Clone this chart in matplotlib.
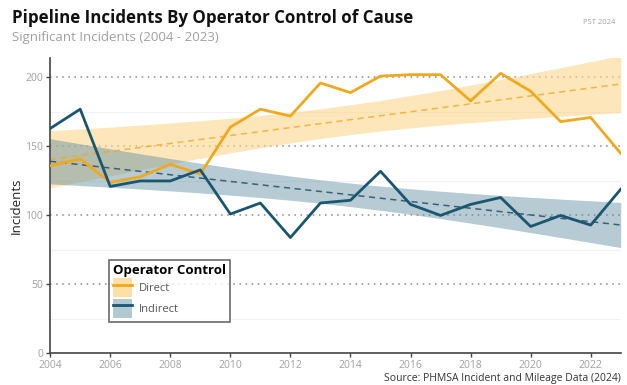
import numpy as np
import matplotlib
matplotlib.use("Agg")
import matplotlib.pyplot as plt
from matplotlib.patches import Patch
from matplotlib.lines import Line2D
from matplotlib.ticker import MultipleLocator

plt.rcParams['font.family'] = ['Open Sans', 'DejaVu Sans']

years = np.arange(2004, 2024)
direct = [136, 141, 124, 128, 137, 130, 164, 177, 172, 196, 189, 201,
          202, 202, 183, 203, 190, 168, 171, 145]
indirect = [163, 177, 121, 125, 125, 133, 101, 109, 84, 109, 111, 132,
            108, 100, 108, 113, 92, 100, 93, 119]

orange = "#F0A91E"
blue = "#1B5670"
t975 = 2.1009  # t quantile, 95% band, 18 df


def lm_band(x, y):
    x = np.asarray(x, float)
    y = np.asarray(y, float)
    n = len(x)
    b, a = np.polyfit(x, y, 1)
    fit = a + b * x
    s2 = np.sum((y - fit) ** 2) / (n - 2)
    sxx = np.sum((x - x.mean()) ** 2)
    se = np.sqrt(s2 * (1 / n + (x - x.mean()) ** 2 / sxx))
    return fit, fit - t975 * se, fit + t975 * se


fig = plt.figure(figsize=(6.27, 3.85), dpi=100)
ax = fig.add_axes([0.080, 0.082, 0.910, 0.767])

# minor and major horizontal grid
for v in [25, 75, 125, 175]:
    ax.axhline(v, color="#f2f2f2", lw=0.8, zorder=0)
for v in [50, 100, 150, 200]:
    ax.axhline(v, color="#8a8a8a", lw=1.1, ls=(0, (1, 3)), zorder=0.5)

d_fit, d_lo, d_hi = lm_band(years, direct)
i_fit, i_lo, i_hi = lm_band(years, indirect)

ax.fill_between(years, d_lo, d_hi, color="#FBD68C", alpha=0.6, lw=0, zorder=1)
ax.fill_between(years, i_lo, i_hi, color="#5E8DA0", alpha=0.45, lw=0, zorder=1.1)
ax.plot(years, d_fit, color=orange, lw=1.1, ls=(0, (4, 3)), alpha=0.8, zorder=2)
ax.plot(years, i_fit, color="#2f5566", lw=1.1, ls=(0, (4, 3)), alpha=0.9, zorder=2)

ax.plot(years, direct, color=orange, lw=2.0, zorder=3)
ax.plot(years, indirect, color=blue, lw=2.0, zorder=3)

ax.set_xlim(2004, 2023)
ax.set_ylim(0, 214)
ax.xaxis.set_major_locator(MultipleLocator(2))
ax.yaxis.set_major_locator(MultipleLocator(50))
for side in ["top", "right"]:
    ax.spines[side].set_visible(False)
for side in ["left", "bottom"]:
    ax.spines[side].set_color("#444444")
    ax.spines[side].set_linewidth(1.2)
ax.tick_params(axis="both", colors="#444444", labelcolor="#a0a0a0",
               labelsize=7.5, length=3, width=1, pad=2)
ax.set_ylabel("Incidents", fontsize=9.5, color="#222222", labelpad=2)

handles = [(Patch(facecolor="#FCE0A6", edgecolor="none"),
            Line2D([], [], color=orange, lw=2)),
           (Patch(facecolor="#B3C9D2", edgecolor="none"),
            Line2D([], [], color=blue, lw=2))]
leg = ax.legend(handles, ["Direct", "Indirect"], title="Operator Control",
                loc="upper left", bbox_to_anchor=(0.094, 0.335),
                fontsize=8, title_fontproperties={"weight": "bold", "size": 9.5},
                frameon=True, fancybox=False, handlelength=1.7, handleheight=2.3,
                labelspacing=0.1, borderpad=0.35, handletextpad=0.6,
                labelcolor="#555555")
leg.get_frame().set_edgecolor("#444444")
leg.get_frame().set_linewidth(1.2)
leg._legend_box.align = "left"

fig.text(0.019, 0.953, "Pipeline Incidents By Operator Control of Cause",
         fontsize=12.2, fontweight="bold", color="#111111", va="center")
fig.text(0.019, 0.903, "Significant Incidents (2004 - 2023)",
         fontsize=9.5, color="#a0a0a0", va="center")
fig.text(0.982, 0.942, "PST 2024", fontsize=5.5, color="#a0a0a0",
         ha="right", va="center")
fig.text(0.990, 0.018, "Source: PHMSA Incident and Mileage Data (2024)",
         fontsize=7.5, color="#333333", ha="right", va="center")

fig.savefig("out.png", dpi=100)
